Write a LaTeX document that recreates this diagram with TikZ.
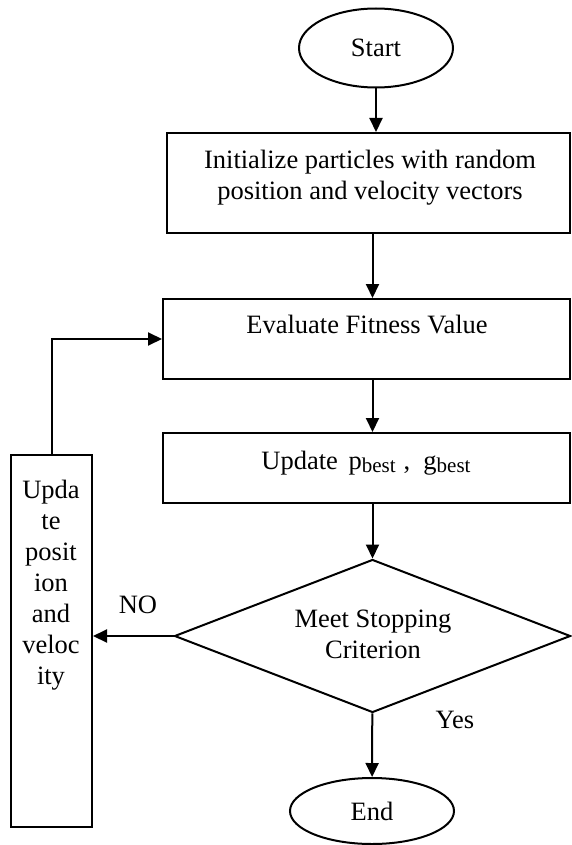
\documentclass[tikz,border=0pt]{standalone}
\usepackage{fontspec}
\setmainfont{Liberation Serif}
\usetikzlibrary{shapes.geometric, arrows.meta}

\newcommand{\sbest}{\raisebox{-3pt}{\fontsize{21}{21}\selectfont best}}

\begin{document}
\begin{tikzpicture}[x=1pt, y=-1pt,
        every node/.style={font=\fontsize{26.5}{31}\selectfont},
        proc/.style={draw, line width=2pt, rectangle, inner sep=0pt},
        term/.style={draw, line width=2pt, ellipse, inner sep=0pt},
        txt/.style={align=center, inner sep=0pt},
        arr/.style={line width=2pt, -{Triangle[length=14pt, width=13pt]}}]
        \useasboundingbox (0,0) rectangle (571,845);

        \node[term, minimum width=154pt, minimum height=79pt] (start) at (376,48) {Start};
        \node[proc, minimum width=403pt, minimum height=100pt] (init) at (368.5,183) {};
        \node[txt] (initT) at (370,178) {Initialize particles with random\\position and velocity vectors};
        \node[proc, minimum width=407pt, minimum height=80pt] (eval) at (366.5,339) {};
        \node[txt] (evalT) at (367,325) {Evaluate Fitness Value};
        \node[proc, minimum width=407pt, minimum height=70pt] (upd) at (366.5,468) {};
        \node[txt] (updT) at (366,463) {Update\hspace{0.4em}p\sbest\hspace{0.3em},\hspace{0.5em}g\sbest};
        \node[draw, line width=2pt, diamond, inner sep=0pt, minimum width=396pt, minimum height=153pt] (cond) at (372.5,636) {};
        \node[txt] (condT) at (373,634) {Meet Stopping\\Criterion};
        \node[term, minimum width=164pt, minimum height=66pt] (finish) at (372,811) {End};

        \node[proc, minimum width=81pt, minimum height=372pt] (posv) at (51.5,641) {};
        \node[txt] (posvT) at (51,585) {Upda\\te\\posit\\ion\\and\\veloc\\ity};

        \node[txt] (noT) at (138,605) {NO};
        \node[txt] (yesT) at (455,720) {Yes};

        \draw[arr] (start) -- (start |- init.north);
        \draw[arr] (init.south -| cond) -- (eval.north -| cond);
        \draw[arr] (eval.south -| cond) -- (upd.north -| cond);
        \draw[arr] (upd.south -| cond) -- (cond);
        \draw[arr] (cond) -- (finish);
        \draw[arr] (cond.west) -- (cond.west -| posv.east);
        \draw[arr] (posv) |- (eval);
    \end{tikzpicture}
\end{document}
